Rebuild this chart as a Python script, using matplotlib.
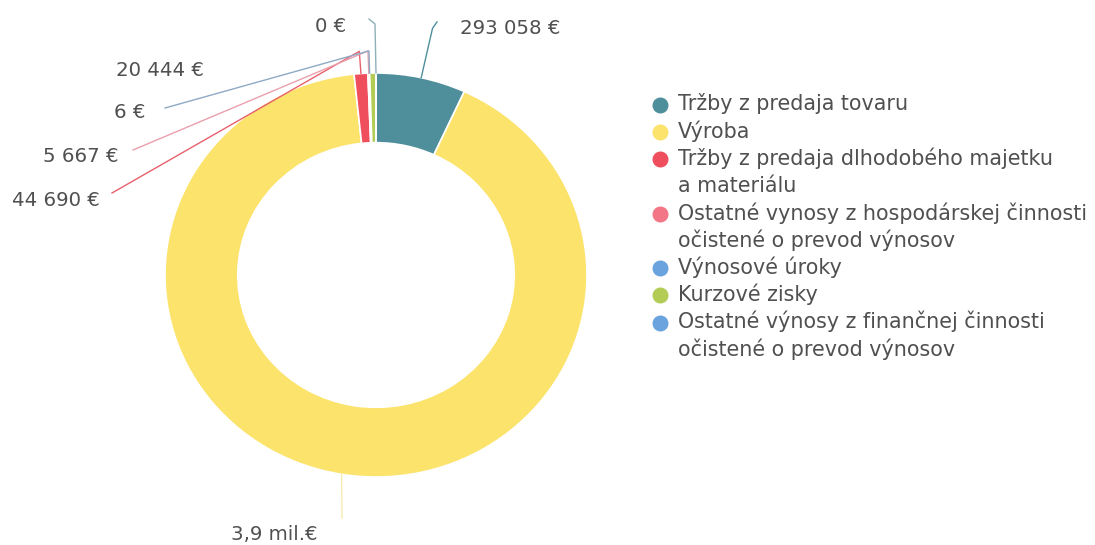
import matplotlib
matplotlib.use('Agg')
import matplotlib.pyplot as plt
import numpy as np

plt.rcParams['font.family'] = ['DejaVu Sans']

# data
nazvy = ['Tržby z predaja tovaru',
         'Výroba',
         'Tržby z predaja dlhodobého majetku\na materiálu',
         'Ostatné vynosy z hospodárskej činnosti\nočistené o prevod výnosov',
         'Výnosové úroky',
         'Kurzové zisky',
         'Ostatné výnosy z finančnej činnosti\nočistené o prevod výnosov']
hodnoty = [293058, 3900000, 44690, 5667, 6, 20444, 0]
popisky = ['293 058 €', '3,9 mil.€', '44 690 €', '5 667 €', '6 €', '20 444 €', '0 €']
farby = ['#4f8f9b', '#fbe36c', '#ef4f5d', '#f27686', '#6aa3dd', '#b3cc55', '#6aa3dd']
farby_ciar = ['#4f8f9b', '#f7ecb0', '#e8606c', '#eaa0ac', '#8eaac4', None, '#8fb0b8']

W, H = 1095, 545
cx, cy, rx, ry = 376, 275, 211, 202

def px2d(px, py):
    return ((px - cx) / rx, (cy - py) / ry)

fig = plt.figure(figsize=(W / 100, H / 100), dpi=100)
fig.patch.set_facecolor('white')
ax = fig.add_axes([(cx - rx) / W, (H - cy - ry) / H, 2 * rx / W, 2 * ry / H])
wedges, _ = ax.pie(hodnoty, colors=farby, startangle=90, counterclock=False,
                   radius=1.0, wedgeprops=dict(width=0.345, edgecolor='white', linewidth=1.2))
ax.set_aspect('auto')
ax.set_xlim(-1, 1)
ax.set_ylim(-1, 1)
ax.axis('off')

# pozicie popiskov (stred textu) a konce ciar, v pixeloch
pos_text = [(510, 28), (274, 535), (56, 200), (81, 157), (130, 113), (160, 70), (331, 26)]
pos_ciara = [(437, 22), (342, 518), (112, 193), (133, 150), (165, 108), None, (369, 19)]

for i, w in enumerate(wedges):
    uhol = np.deg2rad((w.theta1 + w.theta2) / 2)
    x0, y0 = np.cos(uhol), np.sin(uhol)
    tx, ty = pos_text[i]
    fig.text(tx / W, 1 - ty / H, popisky[i], ha='center', va='center',
             fontsize=14.2, color='#505050')
    if farby_ciar[i] is None:
        continue
    ex, ey = px2d(*pos_ciara[i])
    if i in (2, 3, 4):
        # zalomenie nad prstencom
        kx, ky = 1.11 * x0, 1.11 * y0
        xs, ys = [x0, kx, ex], [y0, ky, ey]
    elif i == 6:
        kx, ky = px2d(375, 24)
        xs, ys = [x0, kx, ex], [y0, ky, ey]
    elif i == 0:
        kx, ky = 1.25 * x0, 1.25 * y0
        xs, ys = [x0, kx, ex], [y0, ky, ey]
    else:
        xs, ys = [x0, ex], [y0, ey]
    ax.plot(xs, ys, color=farby_ciar[i], lw=1.0, clip_on=False)

# legenda
lx, ly = 678, 104
for i, n in enumerate(nazvy):
    fig.lines.append(plt.Line2D([660 / W], [1 - (ly + 1) / H], marker='o', ms=10.5,
                                color=farby[i], transform=fig.transFigure))
    for riadok in n.split('\n'):
        fig.text(lx / W, 1 - ly / H, riadok, ha='left', va='center',
                 fontsize=14.9, color='#505050')
        ly += 27.2

fig.savefig('out.png', dpi=100, facecolor='white')
